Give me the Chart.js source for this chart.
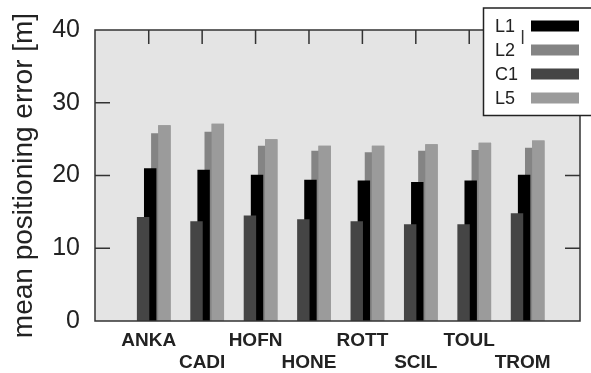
<!DOCTYPE html>
<html>
<head>
<meta charset="utf-8">
<script src="https://cdn.jsdelivr.net/npm/chart.js@4.4.1/dist/chart.umd.min.js"></script>
<style>
  html, body { margin: 0; padding: 0; background: #fff; }
  #wrap { width: 591px; height: 373px; }
</style>
</head>
<body>
<div id="wrap"><canvas id="errChart" width="591" height="373"></canvas></div>
<script>
// stations along the x axis
const stations = ["ANKA", "CADI", "HOFN", "HONE", "ROTT", "SCIL", "TOUL", "TROM"];

// mean positioning error [m] per signal
const c1Err = [14.3, 13.7, 14.5, 14.0, 13.7, 13.3, 13.3, 14.8];
const l1Err = [21.0, 20.8, 20.1, 19.4, 19.3, 19.1, 19.3, 20.1];
const l2Err = [25.8, 26.0, 24.1, 23.4, 23.2, 23.4, 23.5, 23.8];
const l5Err = [26.9, 27.1, 25.0, 24.1, 24.1, 24.3, 24.5, 24.8];

const yTicks = [0, 10, 20, 30, 40];
const legendOrder = ["L1", "L2", "C1", "L5"];

const FONT = "'Liberation Sans', Arial, sans-serif";
const INK = "#222";
const tickShift = 0.094; // gnuplot puts the label a bit left of the group centre

const toPoints = arr => arr.map((v, i) => ({ x: i, y: v }));

// ---------------- FRAME / TICKS / KEY ----------------
const frame = {
  id: "frame",
  beforeDatasetsDraw(chart) {
    const { ctx, chartArea: a } = chart;
    ctx.save();
    ctx.fillStyle = "#e4e4e4";
    ctx.fillRect(a.left, a.top, a.right - a.left, a.bottom - a.top);
    ctx.restore();
  },
  afterDatasetsDraw(chart) {
    const { ctx, chartArea: a, scales } = chart;
    // L5 bars sit in front of L2 in the original
    chart.getDatasetMeta(3).data.forEach(el => el.draw(ctx));

    ctx.save();
    ctx.strokeStyle = "#333";
    ctx.lineWidth = 1.5;
    ctx.strokeRect(a.left, a.top, a.right - a.left, a.bottom - a.top);
    ctx.beginPath();
    yTicks.slice(1, -1).forEach(v => {
      const y = scales.y.getPixelForValue(v);
      ctx.moveTo(a.left, y); ctx.lineTo(a.left + 15, y);
      ctx.moveTo(a.right, y); ctx.lineTo(a.right - 15, y);
    });
    ctx.stroke();
    ctx.restore();
  },
  afterDraw(chart) {
    const { ctx, chartArea: a, scales } = chart;
    ctx.save();
    // key box
    ctx.fillStyle = "#fff";
    ctx.fillRect(483.5, 8, 110, 107.5);
    ctx.strokeStyle = "#222";
    ctx.lineWidth = 1.5;
    ctx.strokeRect(483.5, 8, 110, 107.5);
    ctx.font = "18px " + FONT;
    ctx.textBaseline = "middle";
    ctx.textAlign = "left";
    legendOrder.forEach((name, row) => {
      const ds = chart.data.datasets.find(d => d.label === name);
      const y = 26 + row * 24;
      ctx.fillStyle = INK;
      ctx.fillText(name, 495, y + 1);
      ctx.fillStyle = ds.backgroundColor;
      ctx.fillRect(531, y - 5.5, 48, 11);
    });
    // top x ticks, drawn last like gnuplot
    ctx.strokeStyle = "#333";
    ctx.lineWidth = 1.5;
    ctx.beginPath();
    scales.x.ticks.forEach(t => {
      const x = scales.x.getPixelForValue(t.value);
      ctx.moveTo(x, a.top); ctx.lineTo(x, a.top + 14);
    });
    ctx.stroke();
    ctx.restore();
  }
};

const ctx = document.getElementById("errChart").getContext("2d");

new Chart(ctx, {
  type: "bar",
  data: {
    datasets: [
      { label: "C1", data: toPoints(c1Err), backgroundColor: "#454545" },
      { label: "L1", data: toPoints(l1Err), backgroundColor: "#000000" },
      { label: "L2", data: toPoints(l2Err), backgroundColor: "#848484" },
      { label: "L5", data: toPoints(l5Err), backgroundColor: "#9b9b9b" }
    ]
  },
  options: {
    responsive: false,
    animation: false,
    layout: { padding: { top: 20, right: 11, left: 0, bottom: 0 } },
    datasets: {
      bar: { categoryPercentage: 0.532, barPercentage: 1.75, borderWidth: 0 }
    },
    plugins: {
      legend: { display: false },
      tooltip: { enabled: false }
    },
    scales: {
      x: {
        type: "linear",
        offset: false,
        min: -1.1,
        max: 7.98,
        afterBuildTicks: axis => {
          axis.ticks = stations.map((s, i) => ({ value: i - tickShift }));
        },
        afterFit: axis => { axis.height = 52; },
        grid: { display: false, drawTicks: false, offset: false },
        border: { display: false },
        ticks: {
          autoSkip: false,
          maxRotation: 0,
          padding: 9,
          color: INK,
          font: { family: FONT, size: 19, weight: "bold", lineHeight: 22 / 19 },
          callback: (v, i) => (i % 2 ? ["", stations[i]] : [stations[i], ""])
        }
      },
      y: {
        min: 0,
        max: 40,
        afterBuildTicks: axis => {
          axis.ticks = yTicks.map(v => ({ value: v }));
        },
        afterFit: axis => { axis.width = 95; },
        grid: { display: false, drawTicks: false },
        border: { display: false },
        ticks: { padding: 15, color: INK, font: { family: FONT, size: 25 } },
        title: {
          display: true,
          text: "mean positioning error [m]",
          color: INK,
          font: { family: FONT, size: 28 },
          padding: { top: 7, bottom: 0 }
        }
      }
    }
  },
  plugins: [frame]
});
</script>
</body>
</html>
